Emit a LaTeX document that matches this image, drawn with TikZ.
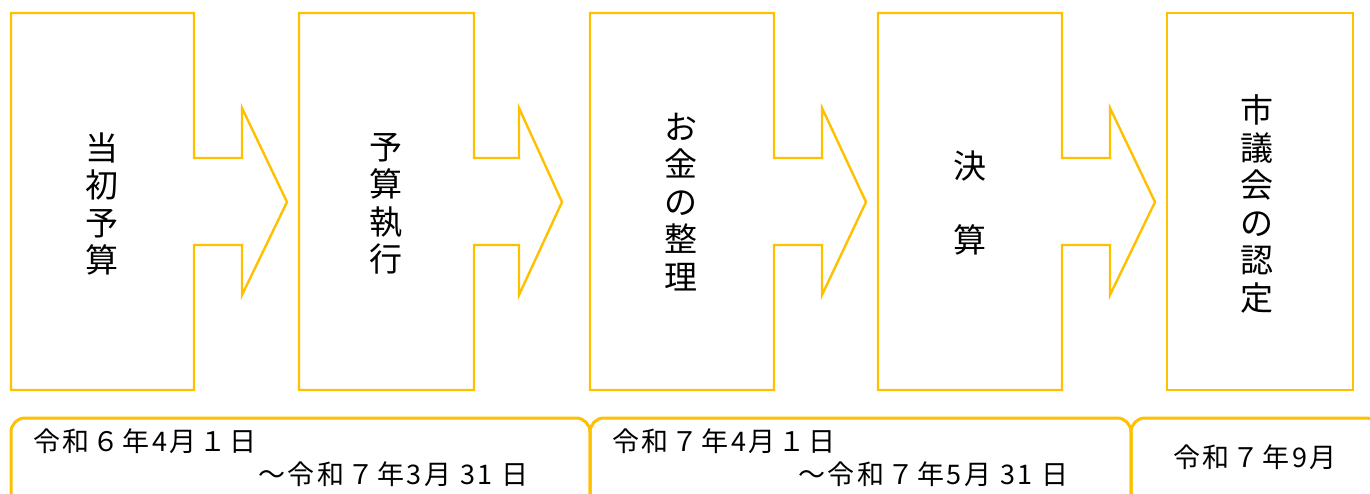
\documentclass[tikz,border=0pt]{standalone}
\usepackage{fontspec}
\newfontfamily\jpfont{Noto Sans CJK JP}
\newfontfamily\jpdatefont[LetterSpace=10]{Noto Sans CJK JP}
\usetikzlibrary{positioning}
\definecolor{gold}{HTML}{FFC000}
\tikzset{
  stage/.style={draw=gold,line width=2.4pt,line join=miter},
  period/.style={draw=gold,line width=3pt,rounded corners=14pt},
  stagetext/.style={font=\jpfont\fontsize{33}{37.5}\selectfont,align=center,inner sep=0pt},
  datetext/.style={font=\jpdatefont\fontsize{27}{30}\selectfont,anchor=west,inner sep=0pt}
}

\begin{document}
\begin{tikzpicture}[x=1pt,y=-1pt]
            \useasboundingbox (0,0) rectangle (1370,494);
            \clip (0,0) rectangle (1370,494);
            % boxes with arrows
            \foreach \xl/\xr/\xh/\xt in {11/194/242/287, 299/474/519/562, 590/774/822/866, 878/1062/1110/1155}
              \draw[stage] (\xl,13) -- (\xr,13) -- (\xr,158) -- (\xh,158) -- (\xh,108) -- (\xt,202)
                -- (\xh,295) -- (\xh,245) -- (\xr,245) -- (\xr,390) -- (\xl,390) -- cycle;
            \draw[stage] (1167,13) rectangle (1353,390);
            \node[stagetext] (initial) at (102,204) {当\\初\\予\\算};
            \node[stagetext] (execute) at (386,204) {予\\算\\執\\行};
            \node[stagetext] (cash) at (681,202) {お\\金\\の\\整\\理};
            \node[stagetext] (settle) at (970,203) {決\\[36pt]算};
            \node[stagetext] (approve) at (1257,204) {市\\議\\会\\の\\認\\定};
            % periods
            \draw[period] (11,520) -- (11,418) coordinate (P1) -- (590,418) -- (590,520);
            \draw[period] (590,520) -- (590,418) coordinate (P2) -- (1131,418) -- (1131,520);
            \draw[period] (1131,520) -- (1131,418) coordinate (P3) -- (1380,418) -- (1380,520);
            \node[datetext] (from1) at (33,441) {令和６年4月１日};
            \node[datetext] (to1) at (258,474) {～令和７年3月 31 日};
            \node[datetext] (from2) at (612,441) {令和７年4月１日};
            \node[datetext] (to2) at (798,474) {～令和７年5月 31 日};
            \node[datetext] (month3) at (1173,457) {令和７年9月};
        \end{tikzpicture}
\end{document}
